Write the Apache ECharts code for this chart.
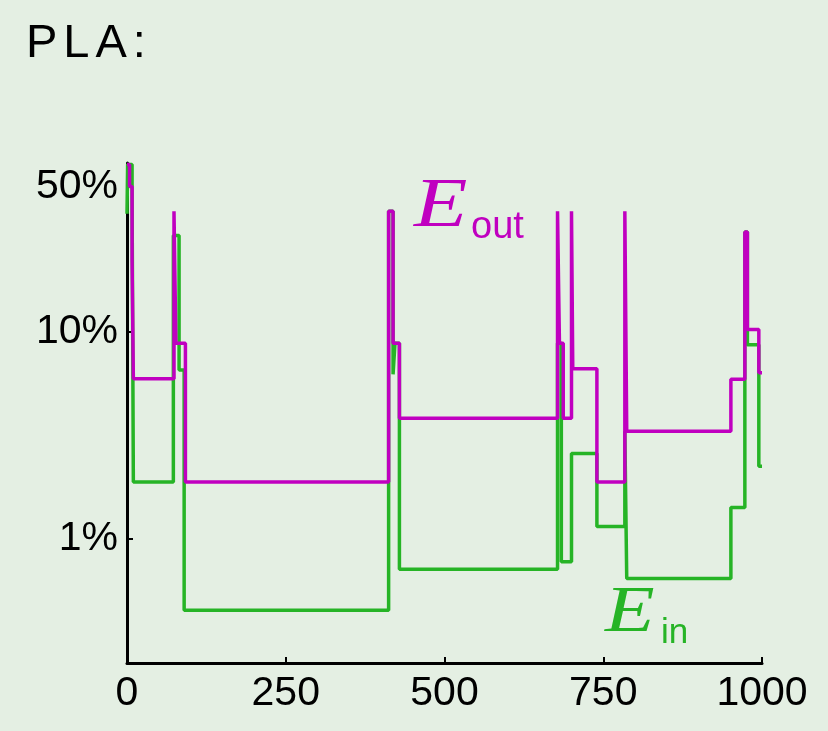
<!DOCTYPE html>
<html><head><meta charset="utf-8">
<script src="https://cdn.jsdelivr.net/npm/echarts@6/dist/echarts.min.js"></script>
<style>html,body{margin:0;padding:0;background:#e4efe3}#c{width:828px;height:731px}</style>
</head><body><div id="c"></div>
<script>
// iteration at which each step begins, and the value (%) held until the next step
const eoutX = [0, 4, 8, 10, 74, 77, 92, 412, 419, 429, 678, 681, 687, 700, 702, 740, 784, 787, 951, 973, 977, 995, 1000];
const eoutY = [64, 50, 22, 5.9, 38, 8.75, 1.87, 38, 8.75, 3.8, 38, 8.75, 3.8, 38, 6.6, 1.87, 38, 3.29, 5.86, 30.2, 10.2, 6.3, 6.3];
const einX = [0, 1, 8, 10, 73, 82, 90, 412, 419, 422, 429, 678, 684, 700, 740, 784, 787, 951, 973, 977, 995, 1000];
const einY = [37, 64, 45, 1.87, 29, 6.5, 0.45, 38, 6.2, 8.75, 0.71, 8.75, 0.77, 2.57, 1.14, 3.29, 0.64, 1.41, 30.2, 8.6, 2.23, 2.23];
const xTicks = [0, 250, 500, 750, 1000];
const yTicks = [1, 10, 50];

const MAG = '#c000c0', GRN = '#26b426';
const chart = echarts.init(document.getElementById('c'), null, {renderer: 'canvas'});
const pairs = (xs, ys) => xs.map((x, i) => [x, ys[i]]);
chart.setOption({
  animation: false,
  backgroundColor: '#e4efe3',
  grid: {left: 127, right: 66, top: 163, bottom: 68, containLabel: false},
  title: {
    text: '{c|P}{c|L}{c|A}{e|:}', left: 21, top: 16,
    textStyle: {fontWeight: 'normal', rich: {
      c: {fontFamily: 'Liberation Sans', fontSize: 47, fontWeight: 'normal', color: '#000', padding: [0, 6, 0, 0]},
      e: {fontFamily: 'Liberation Sans', fontSize: 47, fontWeight: 'normal', color: '#000'}
    }}
  },
  xAxis: {
    type: 'value', min: 0, max: 1000, interval: 250,
    splitLine: {show: false},
    axisLine: {lineStyle: {color: '#000', width: 3}},
    axisTick: {show: true, inside: true, length: 6, lineStyle: {color: '#000', width: 2}, customValues: xTicks},
    axisLabel: {customValues: xTicks, fontFamily: 'Liberation Sans', fontSize: 41, color: '#000', margin: 10,
      formatter: v => String(v)}
  },
  yAxis: {
    type: 'log', logBase: 10, min: 0.25, max: 65,
    splitLine: {show: false},
    axisLine: {show: true, lineStyle: {color: '#000', width: 3}},
    axisTick: {show: true, inside: true, length: 6, lineStyle: {color: '#000', width: 2}, customValues: yTicks},
    axisLabel: {customValues: yTicks, fontFamily: 'Liberation Sans', fontSize: 41, color: '#000', margin: 9,
      formatter: v => Math.round(v) + '%'}
  },
  series: [
    {name: 'Ein', type: 'line', step: 'end', showSymbol: false, data: pairs(einX, einY),
     lineStyle: {color: GRN, width: 3.5}, itemStyle: {color: GRN}, z: 2},
    {name: 'Eout', type: 'line', step: 'end', showSymbol: false, data: pairs(eoutX, eoutY),
     lineStyle: {color: MAG, width: 3.5}, itemStyle: {color: MAG}, z: 3}
  ],
  graphic: [
    {type: 'text', x: 414, y: 208, scaleX: 1.25, style: {text: 'E', fill: MAG, font: 'italic 70px "Liberation Serif"', textAlign: 'left', textVerticalAlign: 'middle'}},
    {type: 'text', x: 471, y: 228, style: {text: 'out', fill: MAG, font: '38px "Liberation Sans"', textAlign: 'left', textVerticalAlign: 'middle'}},
    {type: 'text', x: 605, y: 614, scaleX: 1.25, style: {text: 'E', fill: GRN, font: 'italic 65px "Liberation Serif"', textAlign: 'left', textVerticalAlign: 'middle'}},
    {type: 'text', x: 661, y: 633, style: {text: 'in', fill: GRN, font: '35px "Liberation Sans"', textAlign: 'left', textVerticalAlign: 'middle'}}
  ]
});
</script></body></html>
